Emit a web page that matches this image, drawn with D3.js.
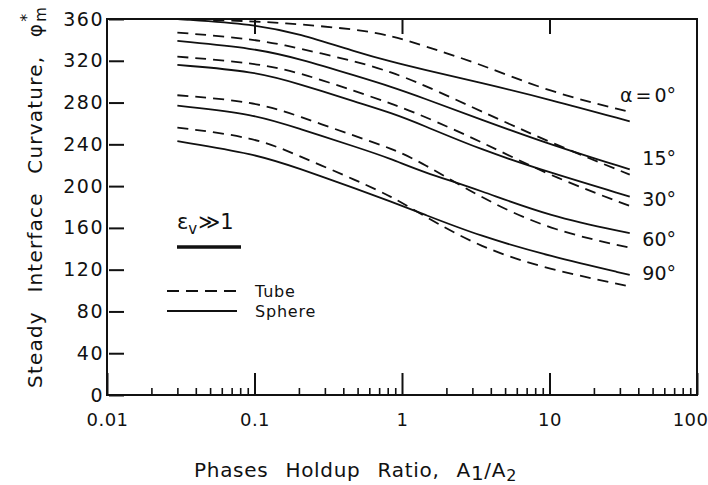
<!DOCTYPE html>
<html>
<head>
<meta charset="utf-8">
<script src="https://cdn.jsdelivr.net/npm/d3@7"></script>
<style>
  body { margin: 0; background: #fff; }
  text { font-family: "DejaVu Sans", sans-serif; fill: #111; }
</style>
</head>
<body>
<div id="canvas"></div>
<script>
// Chart data
var holdupRatio = [0.03, 0.1, 0.2, 0.5, 0.85, 1.35, 3.4, 10, 35];

var tube0 = [360, 358, 355, 350, 344, 335, 317, 290, 271];
var sphere0 = [360, 355, 346, 328, 319, 312, 299, 283, 262];
var tube15 = [347, 341, 332, 319, 309, 298, 272, 242, 211];
var sphere15 = [339, 332, 322, 305, 295, 285, 264, 240, 216];
var tube30 = [324, 318, 309, 290, 279, 268, 243, 210, 181];
var sphere30 = [316, 310, 298, 280, 270, 259, 235, 213, 190];
var tube60 = [287, 281, 267, 247, 236, 223, 189, 158, 141];
var sphere60 = [277, 269, 255, 237, 226, 214, 196, 171, 155];
var tube90 = [256, 247, 229, 205, 190, 173, 141, 120, 104];
var sphere90 = [243, 231, 217, 197, 185, 174, 152, 133, 115];

var tubeSeries = [tube0, tube15, tube30, tube60, tube90];
var sphereSeries = [sphere0, sphere15, sphere30, sphere60, sphere90];

var angleLabels = ["α = 0°", "15°", "30°", "60°", "90°"];
var angleLabelAt = [287, 227, 187, 149, 116]; // value where each label sits

var yTicks = [0, 40, 80, 120, 160, 200, 240, 280, 320, 360];
var xTicks = [0.01, 0.1, 1, 10, 100];
var xTickLabels = ["0.01", "0.1", "1", "10", "100"];

// Dimensions
var w = 708;
var h = 485;
var margin = {top: 19, right: 11, bottom: 90, left: 107};

var svg = d3.select("#canvas")
    .append("svg")
    .attr("width", w)
    .attr("height", h)
    .style("background-color", "white");

var x = d3.scaleLog()
    .domain([0.01, 100])
    .range([margin.left, w - margin.right]);

var y = d3.scaleLinear()
    .domain([0, 360])
    .range([h - margin.bottom, margin.top]);

// minor ticks 2..9 in each decade
var minorTicks = [];
[0.01, 0.1, 1, 10].forEach(function(dec) {
    d3.range(2, 10).forEach(function(k) { minorTicks.push(dec * k); });
});

// Bottom axis: major ticks point up into the plot
var xAxis = svg.append("g")
    .attr("transform", `translate(0,${y(0)})`)
    .call(d3.axisBottom(x)
        .tickValues(xTicks)
        .tickSize(-22)
        .tickPadding(18)
        .tickFormat(function(d, i) { return xTickLabels[i]; }));
xAxis.select(".domain").remove();
xAxis.selectAll("line").attr("stroke", "#111").attr("stroke-width", 2);
xAxis.selectAll("text").style("font-size", "18px").attr("letter-spacing", "0.5px");
// last label sits flush with the right edge
xAxis.selectAll("text").filter(function(d) { return d === 100; })
    .attr("text-anchor", "end")
    .attr("x", 11);

var xMinor = svg.append("g")
    .attr("transform", `translate(0,${y(0)})`)
    .call(d3.axisBottom(x).tickValues(minorTicks).tickSize(-7).tickFormat(""));
xMinor.select(".domain").remove();
xMinor.selectAll("line").attr("stroke", "#111").attr("stroke-width", 1.6);

// Top axis: a few ticks pointing down
var xTop = svg.append("g")
    .attr("transform", `translate(0,${y(360)})`)
    .call(d3.axisTop(x).tickValues([0.1, 1, 10]).tickSize(-15).tickFormat(""));
xTop.select(".domain").remove();
xTop.selectAll("line").attr("stroke", "#111").attr("stroke-width", 2);

// Left axis, ticks inside
var yAxis = svg.append("g")
    .attr("transform", `translate(${x(0.01)},0)`)
    .call(d3.axisLeft(y)
        .tickValues(yTicks)
        .tickSize(-15)
        .tickPadding(3));
yAxis.select(".domain").remove();
yAxis.selectAll("line").attr("stroke", "#111").attr("stroke-width", 2)
    .attr("transform", "translate(2,0)");
yAxis.selectAll("text").style("font-size", "19px").attr("letter-spacing", "1.5px");

// Frame
svg.append("rect")
    .attr("x", x(0.01))
    .attr("y", y(360))
    .attr("width", x(100) - x(0.01))
    .attr("height", y(0) - y(360))
    .attr("fill", "none")
    .attr("stroke", "#111")
    .attr("stroke-width", 2);

// Curves
var line = d3.line()
    .x(function(d) { return x(d[0]); })
    .y(function(d) { return y(d[1]); })
    .curve(d3.curveBasis);

function pairs(values) {
    return holdupRatio.map(function(r, i) { return [r, values[i]]; });
}

svg.selectAll(".sphere")
    .data(sphereSeries)
    .join("path")
    .attr("class", "sphere")
    .attr("d", function(d) { return line(pairs(d)); })
    .attr("fill", "none")
    .attr("stroke", "#111")
    .attr("stroke-width", 1.8);

svg.selectAll(".tube")
    .data(tubeSeries)
    .join("path")
    .attr("class", "tube")
    .attr("d", function(d) { return line(pairs(d)); })
    .attr("fill", "none")
    .attr("stroke", "#111")
    .attr("stroke-width", 1.8)
    .attr("stroke-dasharray", "11,7");

// Angle labels on the right
svg.selectAll(".angle")
    .data(angleLabels)
    .join("text")
    .attr("class", "angle")
    .attr("x", 676)
    .attr("y", function(d, i) { return y(angleLabelAt[i]); })
    .attr("dy", "0.35em")
    .attr("text-anchor", "end")
    .attr("word-spacing", "-3px")
    .style("font-size", "19px")
    .text(function(d) { return d; });

// Legend: epsilon_v >> 1
var eps = svg.append("text")
    .attr("x", 177)
    .attr("y", 229)
    .style("font-size", "21px");
eps.append("tspan").text("ε");
eps.append("tspan").attr("dy", 5).style("font-size", "15px").text("v");
eps.append("tspan").attr("dy", -5).attr("dx", 1).text("≫1");

svg.append("line")
    .attr("x1", 177).attr("x2", 241)
    .attr("y1", 247).attr("y2", 247)
    .attr("stroke", "#111")
    .attr("stroke-width", 3.5);

var legendItems = [
    {name: "Tube", dash: "12,7", y: 291},
    {name: "Sphere", dash: null, y: 311}
];
legendItems.forEach(function(item) {
    svg.append("line")
        .attr("x1", 167).attr("x2", 237)
        .attr("y1", item.y).attr("y2", item.y)
        .attr("stroke", "#111")
        .attr("stroke-width", 1.8)
        .attr("stroke-dasharray", item.dash);
    svg.append("text")
        .attr("x", 255)
        .attr("y", item.y)
        .attr("dy", "0.35em")
        .style("font-size", "16px")
        .attr("letter-spacing", "0.8px")
        .text(item.name);
});

// X axis title
var xTitle = svg.append("text")
    .attr("x", 194)
    .attr("y", 477)
    .style("font-size", "20px")
    .attr("letter-spacing", "0.7px")
    .attr("word-spacing", "10px");
xTitle.append("tspan").text("Phases Holdup Ratio, A");
xTitle.append("tspan").attr("dy", 3).text("1");
xTitle.append("tspan").attr("dy", -3).text("/A");
xTitle.append("tspan").attr("dy", 4).style("font-size", "16px").text("2");

// Y axis title
var yTitle = svg.append("text")
    .attr("transform", "translate(42,388) rotate(-90)")
    .style("font-size", "20px")
    .attr("word-spacing", "11px")
    .attr("letter-spacing", "1.2px");
yTitle.append("tspan").text("Steady Interface Curvature, φ");
yTitle.append("tspan").attr("dy", -10).attr("dx", 1).style("font-size", "16px").text("*");
yTitle.append("tspan").attr("dy", 14).attr("dx", -9).style("font-size", "15px").text("m");
</script>
</body>
</html>
